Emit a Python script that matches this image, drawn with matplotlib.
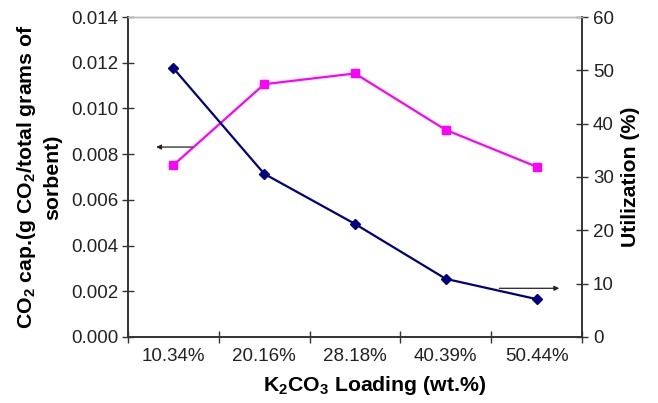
import numpy as np
import matplotlib.pyplot as plt

plt.rcParams['font.family'] = ['Liberation Sans', 'DejaVu Sans']
plt.rcParams['mathtext.fontset'] = 'custom'
plt.rcParams['mathtext.rm'] = 'Liberation Sans'
plt.rcParams['mathtext.bf'] = 'Liberation Sans:bold'
plt.rcParams['mathtext.default'] = 'bf'

loadings = ["10.34%", "20.16%", "28.18%", "40.39%", "50.44%"]
co2_cap = [0.00752, 0.01106, 0.01153, 0.00906, 0.00745]
utilization = [50.4, 30.6, 21.2, 10.9, 7.1]

x = np.arange(len(loadings))

fig = plt.figure(figsize=(6.58, 4.03), dpi=100)
ax = fig.add_axes([0.1945, 0.1638, 0.69, 0.794])
ax2 = ax.twinx()

ax.plot(x, co2_cap, color="#FF00FF", marker="s", markersize=6, linewidth=1.6, zorder=3)
ax2.plot(x, utilization, color="#000080", marker="D", markersize=5, linewidth=1.6, zorder=3)

ax.set_xlim(-0.5, len(loadings) - 0.5)
ax.set_ylim(0, 0.014)
ax.set_yticks(np.arange(0, 0.0141, 0.002))
ax.set_yticklabels([f"{v:.3f}" for v in np.arange(0, 0.0141, 0.002)])
ax2.set_ylim(0, 60)
ax2.set_yticks(np.arange(0, 61, 10))

# category labels centred, tick marks on the boundaries
ax.set_xticks(x)
ax.set_xticklabels(loadings)
ax.set_xticks(np.arange(-0.5, len(loadings)), minor=True)
ax.tick_params(axis="x", which="major", length=0, pad=8, labelsize=13.5, colors="#222222")
ax.tick_params(axis="x", which="minor", direction="inout", length=8, width=1, color="#333333")
ax.tick_params(axis="y", direction="inout", length=8, width=1, labelsize=13.5, color="#333333",
               labelcolor="#222222", pad=3)
ax2.tick_params(axis="y", direction="inout", length=8, width=1, labelsize=13.5, color="#333333",
                labelcolor="#222222", pad=4)

for a in (ax, ax2):
    a.spines["top"].set_color("#bbbbbb")
    a.spines["top"].set_linewidth(1)
    for s in ("left", "right", "bottom"):
        a.spines[s].set_color("#333333")
        a.spines[s].set_linewidth(1.2)

ax.set_xlabel("K$_2$CO$_3$ Loading (wt.%)", fontsize=15.3, fontweight="bold", labelpad=4)
ax.xaxis.set_label_coords(0.544, -0.115)
ax.set_ylabel("CO$_2$ cap.(g CO$_2$/total grams of\nsorbent)", fontsize=15.3,
              fontweight="bold", labelpad=6, linespacing=1.35)
ax2.set_ylabel("Utilization (%)", fontsize=15.3, fontweight="bold", labelpad=5)

# arrows pointing each curve to its axis
ax.annotate("", xy=(-0.22, 0.00831), xytext=(0.24, 0.00831),
            arrowprops=dict(arrowstyle="-|>", color="#222222", lw=0.9, mutation_scale=7))
ax2.annotate("", xy=(4.28, 9.13), xytext=(3.56, 9.13),
             arrowprops=dict(arrowstyle="-|>", color="#222222", lw=0.9, mutation_scale=7))

fig.savefig("out.png", dpi=100)
